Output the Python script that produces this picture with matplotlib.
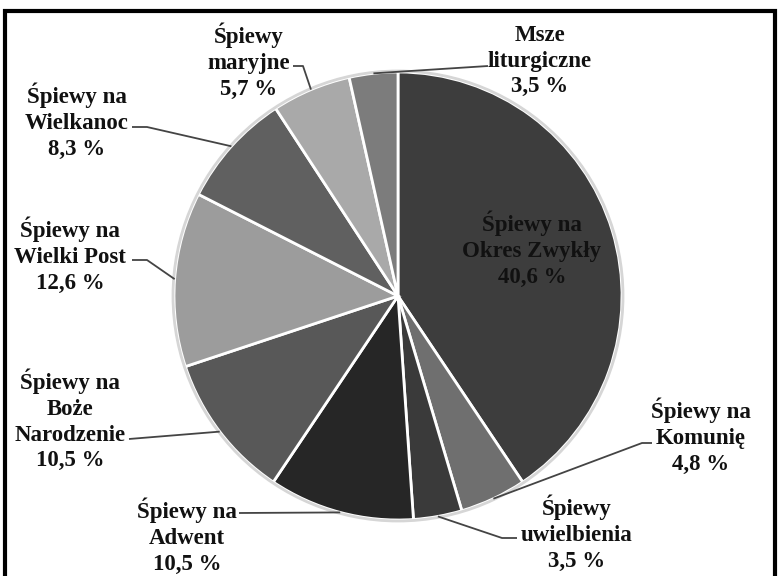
import numpy as np
import matplotlib.pyplot as plt
from matplotlib.patches import Rectangle, Circle

plt.rcParams['font.family'] = ['Liberation Serif', 'DejaVu Serif']

# chart data
labels = ['Śpiewy na\nOkres Zwykły', 'Śpiewy na\nKomunię', 'Śpiewy\nuwielbienia',
          'Śpiewy na\nAdwent', 'Śpiewy na\nBoże\nNarodzenie', 'Śpiewy na\nWielki Post',
          'Śpiewy na\nWielkanoc', 'Śpiewy\nmaryjne', 'Msze\nliturgiczne']
shares = [40.6, 4.8, 3.5, 10.5, 10.5, 12.6, 8.3, 5.7, 3.5]
colors = ['#3d3d3d', '#6f6f6f', '#3a3a3a', '#262626', '#585858',
          '#9c9c9c', '#606060', '#a9a9a9', '#7c7c7c']

# layout in pixels, measured from the top left corner
W, H = 780, 576
center = (398, 296)
radius = 224
text_pos = [(532, 249), (701, 436), (577, 533), (187, 536), (70, 420),
            (70, 255), (77, 121), (249, 61), (540, 61)]
# where each leader line leaves the label, and the short horizontal bit
lead_start = [None, (652, 443), (517, 538), (239, 513), (129, 439),
              (132, 260), (132, 127), (293, 66), (488, 66)]
elbow = [0, -10, -15, 0, 0, 15, 15, 10, 0]

fig = plt.figure(figsize=(W / 100, H / 100), dpi=100)
ax = fig.add_axes([0, 0, 1, 1])

cx, cy = center[0], H - center[1]
wedges, _ = ax.pie(shares, colors=colors, startangle=90, counterclock=False,
                   center=(cx, cy), radius=radius,
                   wedgeprops=dict(edgecolor='white', linewidth=2))
ax.add_patch(Circle((cx, cy), radius + 1, fill=False, edgecolor='#d6d6d6', lw=2))

ax.set_xlim(0, W)
ax.set_ylim(0, H)
ax.set_aspect('auto')
ax.axis('off')

for i, w in enumerate(wedges):
    txt = labels[i] + '\n' + f'{shares[i]:.1f}'.replace('.', ',') + ' %'
    tx, ty = text_pos[i]
    ax.text(tx, H - ty, txt, ha='center', va='center', fontsize=16.5,
            fontweight='bold', color='#111111', linespacing=1.3)
    if lead_start[i] is None:
        continue
    mid = np.deg2rad((w.theta1 + w.theta2) / 2)
    ax_, ay_ = cx + radius * np.cos(mid), cy + radius * np.sin(mid)
    sx, sy = lead_start[i]
    xs = [sx, sx + elbow[i], ax_]
    ys = [H - sy, H - sy, ay_]
    ax.plot(xs, ys, color='#444444', lw=1.3, solid_capstyle='butt')

# frame around the picture
ax.add_patch(Rectangle((5, -20), 770, H - 11 + 20, fill=False,
                       edgecolor='black', lw=3, clip_on=False))

fig.savefig('out.png', dpi=100)
